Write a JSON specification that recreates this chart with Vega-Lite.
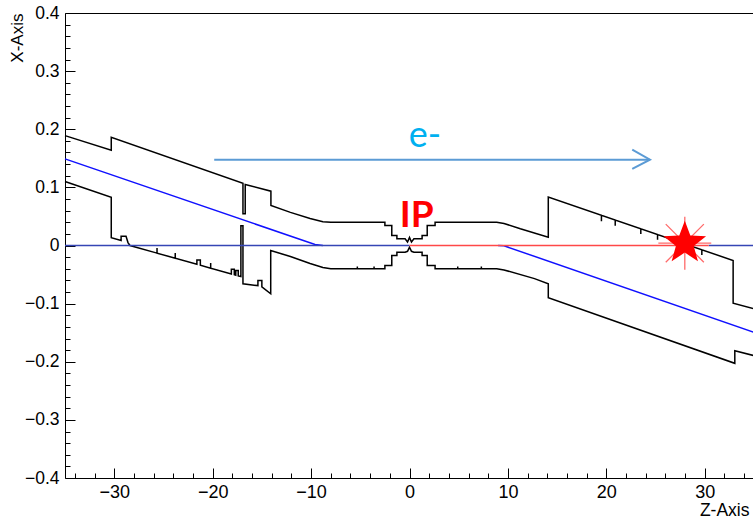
{
  "$schema": "https://vega.github.io/schema/vega-lite/v6.json",
  "width": 689,
  "height": 465,
  "autosize": {"type": "none"},
  "padding": {"left": 65, "top": 13, "right": 0, "bottom": 41},
  "background": "white",
  "config": {"view": {"stroke": "black", "strokeWidth": 1}, "font": "Liberation Sans"},
  "datasets": {
    "lines": [
      {"s": "upper", "i": 1, "z": -35, "x": 0.189},
      {"s": "upper", "i": 2, "z": -30.3, "x": 0.164},
      {"s": "upper", "i": 3, "z": -30.3, "x": 0.186},
      {"s": "upper", "i": 4, "z": -16.92, "x": 0.107},
      {"s": "upper", "i": 5, "z": -16.92, "x": 0.0545},
      {"s": "upper", "i": 6, "z": -16.69, "x": 0.0545},
      {"s": "upper", "i": 7, "z": -16.69, "x": 0.105},
      {"s": "upper", "i": 8, "z": -14.08, "x": 0.0935},
      {"s": "upper", "i": 9, "z": -14.08, "x": 0.069},
      {"s": "upper", "i": 10, "z": -12.1, "x": 0.057},
      {"s": "upper", "i": 11, "z": -10.1, "x": 0.0465},
      {"s": "upper", "i": 12, "z": -8.8, "x": 0.041},
      {"s": "upper", "i": 13, "z": -8.0, "x": 0.040},
      {"s": "upper", "i": 14, "z": -2.5, "x": 0.040},
      {"s": "upper", "i": 15, "z": -2.5, "x": 0.0344},
      {"s": "upper", "i": 16, "z": -1.8, "x": 0.0344},
      {"s": "upper", "i": 17, "z": -1.8, "x": 0.0172},
      {"s": "upper", "i": 18, "z": -1.28, "x": 0.0172},
      {"s": "upper", "i": 19, "z": -1.28, "x": 0.0115},
      {"s": "upper", "i": 20, "z": -0.45, "x": 0.0115},
      {"s": "upper", "i": 21, "z": -0.2, "x": 0.006},
      {"s": "upper", "i": 22, "z": 0, "x": 0.014},
      {"s": "upper", "i": 23, "z": 0.2, "x": 0.006},
      {"s": "upper", "i": 24, "z": 0.45, "x": 0.0115},
      {"s": "upper", "i": 25, "z": 1.28, "x": 0.0115},
      {"s": "upper", "i": 26, "z": 1.28, "x": 0.0172},
      {"s": "upper", "i": 27, "z": 1.8, "x": 0.0172},
      {"s": "upper", "i": 28, "z": 1.8, "x": 0.0344},
      {"s": "upper", "i": 29, "z": 2.6, "x": 0.0344},
      {"s": "upper", "i": 30, "z": 2.6, "x": 0.040},
      {"s": "upper", "i": 31, "z": 8.86, "x": 0.040},
      {"s": "upper", "i": 32, "z": 9.6, "x": 0.038},
      {"s": "upper", "i": 33, "z": 11.26, "x": 0.0288},
      {"s": "upper", "i": 34, "z": 14.1, "x": 0.0143},
      {"s": "upper", "i": 35, "z": 14.1, "x": 0.0832},
      {"s": "upper", "i": 36, "z": 19.5, "x": 0.0519},
      {"s": "upper", "i": 37, "z": 19.5, "x": 0.0419},
      {"s": "upper", "i": 38, "z": 19.5, "x": 0.0519},
      {"s": "upper", "i": 39, "z": 20.9, "x": 0.0438},
      {"s": "upper", "i": 40, "z": 20.9, "x": 0.0338},
      {"s": "upper", "i": 41, "z": 20.9, "x": 0.0438},
      {"s": "upper", "i": 42, "z": 23.5, "x": 0.0287},
      {"s": "upper", "i": 43, "z": 23.5, "x": 0.0197},
      {"s": "upper", "i": 44, "z": 23.5, "x": 0.0287},
      {"s": "upper", "i": 45, "z": 25.2, "x": 0.0188},
      {"s": "upper", "i": 46, "z": 25.2, "x": 0.0098},
      {"s": "upper", "i": 47, "z": 25.2, "x": 0.0188},
      {"s": "upper", "i": 48, "z": 29.7, "x": -0.0073},
      {"s": "upper", "i": 49, "z": 29.7, "x": -0.0163},
      {"s": "upper", "i": 50, "z": 29.7, "x": -0.0073},
      {"s": "upper", "i": 51, "z": 32.88, "x": -0.0258},
      {"s": "upper", "i": 52, "z": 32.88, "x": -0.0993},
      {"s": "upper", "i": 53, "z": 35, "x": -0.109},

      {"s": "lower", "i": 1, "z": -35, "x": 0.110},
      {"s": "lower", "i": 2, "z": -30.3, "x": 0.083},
      {"s": "lower", "i": 3, "z": -30.3, "x": 0.0133},
      {"s": "lower", "i": 4, "z": -29.3, "x": 0.0085},
      {"s": "lower", "i": 5, "z": -29.3, "x": 0.016},
      {"s": "lower", "i": 6, "z": -28.8, "x": 0.016},
      {"s": "lower", "i": 7, "z": -28.6, "x": 0.005},
      {"s": "lower", "i": 8, "z": -28.4, "x": 0.0},
      {"s": "lower", "i": 9, "z": -25.65, "x": -0.0131},
      {"s": "lower", "i": 10, "z": -25.65, "x": -0.0041},
      {"s": "lower", "i": 11, "z": -25.65, "x": -0.0131},
      {"s": "lower", "i": 12, "z": -23.8, "x": -0.0219},
      {"s": "lower", "i": 13, "z": -23.8, "x": -0.0129},
      {"s": "lower", "i": 14, "z": -23.8, "x": -0.0219},
      {"s": "lower", "i": 15, "z": -21.6, "x": -0.0323},
      {"s": "lower", "i": 16, "z": -21.6, "x": -0.025},
      {"s": "lower", "i": 17, "z": -21.25, "x": -0.025},
      {"s": "lower", "i": 18, "z": -21.25, "x": -0.034},
      {"s": "lower", "i": 19, "z": -20.2, "x": -0.039},
      {"s": "lower", "i": 20, "z": -20.2, "x": -0.030},
      {"s": "lower", "i": 21, "z": -20.2, "x": -0.039},
      {"s": "lower", "i": 22, "z": -18.1, "x": -0.0489},
      {"s": "lower", "i": 23, "z": -18.1, "x": -0.041},
      {"s": "lower", "i": 24, "z": -17.8, "x": -0.041},
      {"s": "lower", "i": 25, "z": -17.8, "x": -0.0504},
      {"s": "lower", "i": 26, "z": -17.65, "x": -0.0511},
      {"s": "lower", "i": 27, "z": -17.65, "x": -0.043},
      {"s": "lower", "i": 28, "z": -17.4, "x": -0.043},
      {"s": "lower", "i": 29, "z": -17.4, "x": -0.0523},
      {"s": "lower", "i": 30, "z": -17.13, "x": -0.0535},
      {"s": "lower", "i": 31, "z": -17.13, "x": 0.034},
      {"s": "lower", "i": 32, "z": -16.92, "x": 0.034},
      {"s": "lower", "i": 33, "z": -16.92, "x": -0.066},
      {"s": "lower", "i": 34, "z": -15.4, "x": -0.069},
      {"s": "lower", "i": 35, "z": -15.4, "x": -0.060},
      {"s": "lower", "i": 36, "z": -15.0, "x": -0.060},
      {"s": "lower", "i": 37, "z": -15.0, "x": -0.071},
      {"s": "lower", "i": 38, "z": -14.1, "x": -0.083},
      {"s": "lower", "i": 39, "z": -14.1, "x": -0.0086},
      {"s": "lower", "i": 40, "z": -12.1, "x": -0.019},
      {"s": "lower", "i": 41, "z": -10.1, "x": -0.031},
      {"s": "lower", "i": 42, "z": -8.8, "x": -0.038},
      {"s": "lower", "i": 43, "z": -8.0, "x": -0.040},
      {"s": "lower", "i": 44, "z": -5.3, "x": -0.040},
      {"s": "lower", "i": 45, "z": -5.3, "x": -0.036},
      {"s": "lower", "i": 46, "z": -5.3, "x": -0.040},
      {"s": "lower", "i": 47, "z": -3.6, "x": -0.040},
      {"s": "lower", "i": 48, "z": -3.6, "x": -0.036},
      {"s": "lower", "i": 49, "z": -3.6, "x": -0.040},
      {"s": "lower", "i": 50, "z": -2.5, "x": -0.040},
      {"s": "lower", "i": 51, "z": -2.5, "x": -0.0344},
      {"s": "lower", "i": 52, "z": -1.8, "x": -0.0344},
      {"s": "lower", "i": 53, "z": -1.8, "x": -0.0172},
      {"s": "lower", "i": 54, "z": -1.28, "x": -0.0172},
      {"s": "lower", "i": 55, "z": -1.28, "x": -0.0115},
      {"s": "lower", "i": 56, "z": -0.45, "x": -0.0115},
      {"s": "lower", "i": 57, "z": -0.2, "x": -0.010},
      {"s": "lower", "i": 58, "z": 0, "x": -0.003},
      {"s": "lower", "i": 59, "z": 0.2, "x": -0.010},
      {"s": "lower", "i": 60, "z": 0.45, "x": -0.0115},
      {"s": "lower", "i": 61, "z": 1.28, "x": -0.0115},
      {"s": "lower", "i": 62, "z": 1.28, "x": -0.0172},
      {"s": "lower", "i": 63, "z": 1.8, "x": -0.0172},
      {"s": "lower", "i": 64, "z": 1.8, "x": -0.0344},
      {"s": "lower", "i": 65, "z": 2.6, "x": -0.0344},
      {"s": "lower", "i": 66, "z": 2.6, "x": -0.040},
      {"s": "lower", "i": 67, "z": 4.9, "x": -0.040},
      {"s": "lower", "i": 68, "z": 4.9, "x": -0.036},
      {"s": "lower", "i": 69, "z": 4.9, "x": -0.040},
      {"s": "lower", "i": 70, "z": 7.3, "x": -0.040},
      {"s": "lower", "i": 71, "z": 7.3, "x": -0.036},
      {"s": "lower", "i": 72, "z": 7.3, "x": -0.040},
      {"s": "lower", "i": 73, "z": 8.86, "x": -0.040},
      {"s": "lower", "i": 74, "z": 9.6, "x": -0.042},
      {"s": "lower", "i": 75, "z": 12.7, "x": -0.057},
      {"s": "lower", "i": 76, "z": 14.1, "x": -0.066},
      {"s": "lower", "i": 77, "z": 14.1, "x": -0.090},
      {"s": "lower", "i": 78, "z": 33.05, "x": -0.2027},
      {"s": "lower", "i": 79, "z": 33.05, "x": -0.181},
      {"s": "lower", "i": 80, "z": 35, "x": -0.1895},

      {"s": "orbitL", "i": 1, "z": -35, "x": 0.149},
      {"s": "orbitL", "i": 2, "z": -9.6, "x": 0.0017},
      {"s": "orbitL", "i": 3, "z": -8.8, "x": 0.0},
      {"s": "orbitR", "i": 1, "z": 9.0, "x": 0.0},
      {"s": "orbitR", "i": 2, "z": 9.6, "x": -0.0005},
      {"s": "orbitR", "i": 3, "z": 35, "x": -0.1495},

      {"s": "zeroL", "i": 1, "z": -35, "x": 0},
      {"s": "zeroL", "i": 2, "z": 0, "x": 0},
      {"s": "zeroR", "i": 1, "z": 30.4, "x": 0},
      {"s": "zeroR", "i": 2, "z": 35, "x": 0},
      {"s": "red", "i": 1, "z": 0, "x": 0},
      {"s": "red", "i": 2, "z": 30.4, "x": 0},

      {"s": "shaft", "i": 1, "z": -19.84, "x": 0.1476},
      {"s": "shaft", "i": 2, "z": 24.43, "x": 0.1476},
      {"s": "head", "i": 1, "z": 22.63, "x": 0.1648},
      {"s": "head", "i": 2, "z": 24.43, "x": 0.1476},
      {"s": "head", "i": 3, "z": 22.63, "x": 0.132}
    ],
    "texts": [
      {"t": "IP", "z": 0.74, "x": 0.0315},
      {"t": "e-", "z": 1.58, "x": 0.170}
    ],
    "stars": [
      {"z": 27.97, "x": 0.004}
    ]
  },
  "layer": [
    {
      "data": {"name": "lines"},
      "transform": [{"filter": "datum.s === 'upper'"}],
      "mark": {"type": "line", "color": "black", "strokeWidth": 1.5, "interpolate": "linear"},
      "encoding": {
        "x": {"field": "z", "type": "quantitative", "scale": {"domain": [-35, 35], "nice": false, "zero": false},
          "axis": {"values": [-30, -20, -10, 0, 10, 20, 30], "format": "d", "tickSize": -10, "tickColor": "black", "tickWidth": 1,
            "domain": false, "grid": false, "labelFont": "Liberation Sans", "labelFontSize": 18, "labelColor": "black",
            "labelPadding": 15, "labelFlush": false, "labelOverlap": false,
            "title": "Z-Axis", "titleFont": "Liberation Sans", "titleFontSize": 17.5, "titleFontWeight": "normal", "titleColor": "black",
            "titleAlign": "right", "titleAnchor": "end", "titleX": 684, "titleY": 37.5, "titleBaseline": "alphabetic", "orient": "bottom"}},
        "y": {"field": "x", "type": "quantitative", "scale": {"domain": [-0.4, 0.4], "nice": false, "zero": false},
          "axis": {"values": [-0.4, -0.3, -0.2, -0.1, 0, 0.1, 0.2, 0.3, 0.4], "format": ".1~f", "tickSize": -10, "tickColor": "black", "tickWidth": 1,
            "domain": false, "grid": false, "labelFont": "Liberation Sans", "labelFontSize": 17.5, "labelColor": "black",
            "labelPadding": 16, "labelFlush": false, "labelOverlap": false,
            "title": "X-Axis", "titleFont": "Liberation Sans", "titleFontSize": 17, "titleFontWeight": "normal", "titleColor": "black",
            "titleAngle": 270, "titleAlign": "right", "titleBaseline": "middle", "titleX": -48, "titleY": 0, "orient": "left"}},
        "order": {"field": "i", "type": "quantitative"}
      }
    },
    {
      "data": {"name": "lines"},
      "transform": [{"filter": "datum.s === 'lower'"}],
      "mark": {"type": "line", "color": "black", "strokeWidth": 1.5},
      "encoding": {
        "x": {"field": "z", "type": "quantitative",
          "axis": {"values": [-34, -32, -30, -28, -26, -24, -22, -20, -18, -16, -14, -12, -10, -8, -6, -4, -2, 0, 2, 4, 6, 8, 10, 12, 14, 16, 18, 20, 22, 24, 26, 28, 30, 32, 34],
            "tickSize": -5, "tickColor": "black", "tickWidth": 1, "labels": false, "domain": false, "grid": false, "title": null, "orient": "bottom"}},
        "y": {"field": "x", "type": "quantitative",
          "axis": {"values": [-0.38, -0.36, -0.34, -0.32, -0.3, -0.28, -0.26, -0.24, -0.22, -0.2, -0.18, -0.16, -0.14, -0.12, -0.1, -0.08, -0.06, -0.04, -0.02, 0, 0.02, 0.04, 0.06, 0.08, 0.1, 0.12, 0.14, 0.16, 0.18, 0.2, 0.22, 0.24, 0.26, 0.28, 0.3, 0.32, 0.34, 0.36, 0.38],
            "tickSize": -5, "tickColor": "black", "tickWidth": 1, "labels": false, "domain": false, "grid": false, "title": null, "orient": "left"}},
        "order": {"field": "i", "type": "quantitative"}
      }
    },
    {
      "data": {"name": "lines"},
      "transform": [{"filter": "datum.s === 'orbitL' || datum.s === 'orbitR'"}],
      "mark": {"type": "line", "color": "#1010ff", "strokeWidth": 1.5},
      "encoding": {
        "x": {"field": "z", "type": "quantitative", "axis": null},
        "y": {"field": "x", "type": "quantitative", "axis": null},
        "detail": {"field": "s"},
        "order": {"field": "i", "type": "quantitative"}
      }
    },
    {
      "data": {"name": "lines"},
      "transform": [{"filter": "datum.s === 'zeroL' || datum.s === 'zeroR'"}],
      "mark": {"type": "line", "color": "#3545b5", "strokeWidth": 1.3},
      "encoding": {
        "x": {"field": "z", "type": "quantitative", "axis": null},
        "y": {"field": "x", "type": "quantitative", "axis": null},
        "detail": {"field": "s"},
        "order": {"field": "i", "type": "quantitative"}
      }
    },
    {
      "data": {"name": "lines"},
      "transform": [{"filter": "datum.s === 'red'"}],
      "mark": {"type": "line", "color": "#ff4848", "strokeWidth": 1.4},
      "encoding": {
        "x": {"field": "z", "type": "quantitative", "axis": null},
        "y": {"field": "x", "type": "quantitative", "axis": null},
        "order": {"field": "i", "type": "quantitative"}
      }
    },
    {
      "data": {"name": "lines"},
      "transform": [{"filter": "datum.s === 'shaft' || datum.s === 'head'"}],
      "mark": {"type": "line", "color": "#5b9bd5", "strokeWidth": 2},
      "encoding": {
        "x": {"field": "z", "type": "quantitative", "axis": null},
        "y": {"field": "x", "type": "quantitative", "axis": null},
        "detail": {"field": "s"},
        "order": {"field": "i", "type": "quantitative"}
      }
    },
    {
      "data": {"name": "stars"},
      "mark": {"type": "point", "shape": "M-1,0L1,0M0,-1L0,1M-0.72,-0.72L0.72,0.72M-0.72,0.72L0.72,-0.72", "filled": false, "stroke": "#ff6a6a", "strokeWidth": 1.3, "size": 2800, "opacity": 1},
      "encoding": {
        "x": {"field": "z", "type": "quantitative", "axis": null},
        "y": {"field": "x", "type": "quantitative", "axis": null}
      }
    },
    {
      "data": {"name": "stars"},
      "mark": {"type": "point", "shape": "M0,-1L0.247,-0.34L0.951,-0.309L0.399,0.13L0.588,0.809L0,0.42L-0.588,0.809L-0.399,0.13L-0.951,-0.309L-0.247,-0.34Z", "filled": true, "fill": "#ff0000", "strokeWidth": 0, "size": 2000, "opacity": 1},
      "encoding": {
        "x": {"field": "z", "type": "quantitative", "axis": null},
        "y": {"field": "x", "type": "quantitative", "axis": null}
      }
    },
    {
      "data": {"name": "texts"},
      "transform": [{"filter": "datum.t === 'IP'"}],
      "mark": {"type": "text", "font": "Lato", "fontWeight": "bold", "fontSize": 37, "color": "#ff0000", "align": "center", "baseline": "alphabetic"},
      "encoding": {
        "x": {"field": "z", "type": "quantitative", "axis": null},
        "y": {"field": "x", "type": "quantitative", "axis": null},
        "text": {"field": "t"}
      }
    },
    {
      "data": {"name": "texts"},
      "transform": [{"filter": "datum.t === 'e-'"}],
      "mark": {"type": "text", "font": "Lato", "fontSize": 36, "color": "#00b0f0", "align": "center", "baseline": "alphabetic"},
      "encoding": {
        "x": {"field": "z", "type": "quantitative", "axis": null},
        "y": {"field": "x", "type": "quantitative", "axis": null},
        "text": {"field": "t"}
      }
    }
  ],
  "resolve": {"axis": {"x": "independent", "y": "independent"}}
}
